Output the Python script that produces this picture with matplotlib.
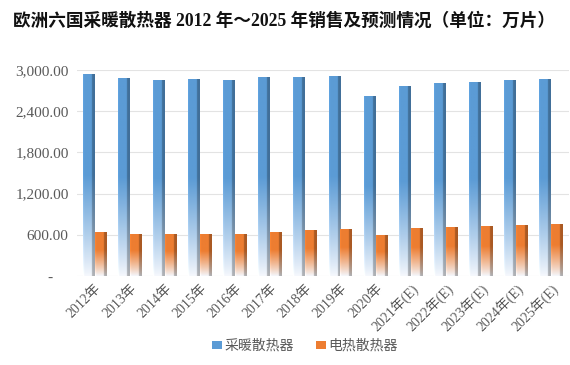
import numpy as np
import matplotlib
matplotlib.use('Agg')
import matplotlib.pyplot as plt
from matplotlib.colors import to_rgb
from matplotlib.patches import Patch

years = ['2012年', '2013年', '2014年', '2015年', '2016年', '2017年', '2018年',
         '2019年', '2020年', '2021年(E)', '2022年(E)', '2023年(E)', '2024年(E)', '2025年(E)']
heating = [2940, 2878, 2853, 2863, 2853, 2892, 2901, 2911, 2620, 2766, 2805, 2829, 2853, 2863]
electric = [640, 615, 610, 610, 610, 640, 670, 688, 595, 694, 718, 726, 742, 750]
series_names = ['采暖散热器', '电热散热器']
y_ticks = [0, 600, 1200, 1800, 2400, 3000]
title = '欧洲六国采暖散热器 2012 年～2025 年销售及预测情况（单位：万片）'

BLUE = '#5B9BD5'
ORANGE = '#ED7D31'
GRAY = '#595959'
MIXED = ['Liberation Serif', 'Noto Sans CJK SC']

fig = plt.figure(figsize=(5.7, 3.65), dpi=100)
ax = fig.add_axes([0.135, 0.244, 0.863, 0.564])
x = np.arange(len(years))
w = 0.34


def gradient_img(base, fade_frac, n=120, m=20):
    b = np.array(to_rgb(base))
    light = np.array([0.96, 0.97, 0.99])
    t = np.linspace(0, 1, n)[:, None]
    k = np.clip(t / fade_frac, 0, 1)
    k = k ** 0.9
    col = light[None, None, :] * (1 - k[:, :, None]) + b[None, None, :] * k[:, :, None]
    col = np.repeat(col, m, axis=1)
    shade = np.ones(m)
    shade[int(m * 0.78):] = 0.72
    shade[:int(m * 0.12)] = 1.05
    col = np.clip(col * shade[None, :, None], 0, 1)
    return col


def draw_bars(xs, vals, base, fade):
    bars = ax.bar(xs, vals, w, color='none', edgecolor='none', zorder=3)
    img = gradient_img(base, fade)
    for p in bars.patches:
        x0 = p.get_x()
        h = p.get_height()
        im = ax.imshow(img, extent=[x0, x0 + p.get_width(), 0, h], origin='lower',
                       aspect='auto', zorder=3, interpolation='bilinear')
        im.set_clip_path(p)
    return bars


draw_bars(x - w / 2, heating, BLUE, 0.5)
draw_bars(x + w / 2, electric, ORANGE, 0.6)

ax.set_xlim(-0.5, len(years) - 0.5)
ax.set_ylim(0, 3000)
ax.set_yticks(y_ticks)
ax.set_yticklabels(['-    ' if v == 0 else f'{v:,.2f}' for v in y_ticks],
                   family='Liberation Serif', fontsize=11, color=GRAY)
ax.set_xticks(x)
ax.set_xticklabels(years, rotation=45, ha='right', rotation_mode='anchor',
                   family=MIXED, fontsize=10, color=GRAY)
ax.tick_params(length=0)
ax.tick_params(axis='x', pad=4)
ax.tick_params(axis='y', pad=6)
ax.grid(axis='y', color='#e3e3e3', lw=0.8, zorder=0)
ax.set_axisbelow(True)
for s in ax.spines.values():
    s.set_visible(False)

fig.text(0.022, 0.93, title, fontsize=12.7, fontweight='bold',
         family=MIXED, color='#111111')

handles = [Patch(facecolor=BLUE, edgecolor='none'), Patch(facecolor=ORANGE, edgecolor='none')]
fig.legend(handles, series_names, loc='lower center', bbox_to_anchor=(0.535, 0.0),
           ncol=2, frameon=False, handlelength=0.7, handleheight=0.5, handletextpad=0.2,
           columnspacing=1.6, prop={'family': 'Noto Sans CJK SC', 'size': 10},
           labelcolor=GRAY)

fig.savefig('out.png', dpi=100)
